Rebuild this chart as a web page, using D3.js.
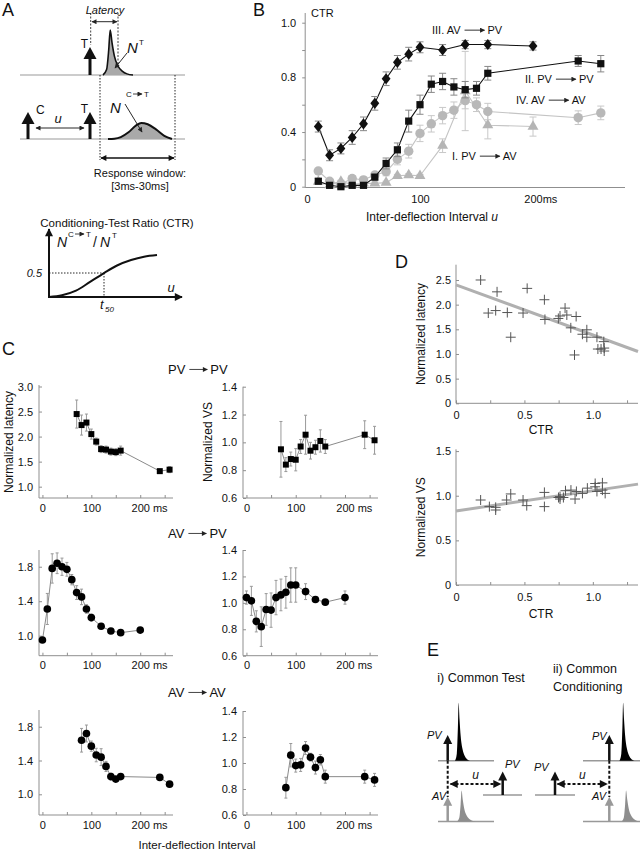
<!DOCTYPE html>
<html><head><meta charset="utf-8">
<script src="https://cdn.jsdelivr.net/npm/d3@7"></script>
<style>
body{margin:0;background:#fff;}
svg{font-family:"Liberation Sans",Arial,Helvetica,sans-serif;}
</style></head><body>
<svg id="c" width="640" height="853"></svg>
<script>
// ================= DATA =================
// Panel B: CTR vs inter-deflection interval (ms)
const bTicksX = [0, 100, 200];
const bTickLabelsX = ["0", "100", "200ms"];
const bTicksY = [0, 0.4, 0.8, 1.2];
const bTickLabelsY = ["0", "0.4", "0.8", "1.0"];
const bMinorY = [0.2, 0.6, 1.0];
const bIntervalsIII = [10,20,30,40,50,60,70,80,90,100,120,140,160,200];
const bCtrIII = [0.44,0.23,0.28,0.36,0.46,0.61,0.79,0.91,0.97,1.02,1.0,1.04,1.04,1.03];
const bErrIII = [0.04,0.04,0.04,0.05,0.05,0.05,0.05,0.05,0.05,0.04,0.04,0.03,0.03,0.03];
const bIntervalsII = [10,20,30,40,50,60,70,80,90,100,110,120,130,140,150,160,240,260];
const bCtrII = [0.04,0.01,0.0,0.01,0.01,0.07,0.17,0.27,0.48,0.60,0.75,0.77,0.73,0.71,0.72,0.83,0.92,0.90];
const bErrII = [0.02,0.01,0.01,0.01,0.01,0.02,0.04,0.05,0.08,0.07,0.06,0.06,0.06,0.06,0.05,0.05,0.04,0.06];
const bIntervalsIV = [10,20,30,40,50,60,70,80,90,100,110,120,130,140,150,160,240,260];
const bCtrIV = [0.115,0.04,0.02,0.06,0.05,0.085,0.11,0.20,0.26,0.39,0.46,0.52,0.56,0.63,0.60,0.55,0.505,0.54];
const bErrIV = [0.02,0.02,0.02,0.02,0.02,0.02,0.03,0.04,0.05,0.06,0.06,0.06,0.06,0.06,0.05,0.06,0.05,0.05];
const bIntervalsI = [10,20,30,40,50,60,70,80,90,100,120,140,160,200];
const bCtrI = [0.037,0.012,0.037,0.017,0.024,0.024,0.03,0.08,0.085,0.08,0.30,0.70,0.45,0.44];
const bErrI = [0.01,0.01,0.01,0.01,0.01,0.01,0.01,0.01,0.01,0.01,0.05,0.29,0.10,0.07];
const bSeriesLabels = [["III. AV","PV"],["II. PV","PV"],["IV. AV","AV"],["I. PV","AV"]];

// Panel C
const cTicksX = [0, 100, 200];
const cMinorX = [50, 150, 250];
const cRowTitles = [["PV","PV"],["AV","PV"],["AV","AV"]];
const cIntervalsPP = [70,80,90,100,110,120,130,140,150,160,240,260];
const cLatPP = [2.45,2.23,2.28,2.05,1.9,1.75,1.74,1.7,1.69,1.72,1.31,1.34];
const cLatErrPP = [0.28,0.2,0.17,0.1,0.07,0.07,0.07,0.07,0.07,0.09,0.04,0.06];
const cVsPP = [0.95,0.84,0.88,0.875,0.97,1.055,0.94,0.965,1.01,0.97,1.055,1.015];
const cVsErrPP = [0.2,0.05,0.05,0.08,0.05,0.14,0.06,0.05,0.08,0.05,0.1,0.1];
const cIntervalsAP = [0,10,20,30,40,50,60,70,80,90,100,120,140,160,200];
const cLatAP = [0.95,1.31,1.78,1.84,1.8,1.77,1.65,1.5,1.45,1.31,1.21,1.11,1.055,1.035,1.065];
const cLatErrAP = [0.02,0.18,0.17,0.12,0.1,0.08,0.06,0.08,0.09,0.05,0.04,0.03,0.02,0.02,0.03];
const cVsAP = [1.04,1.015,0.86,0.82,0.95,0.945,1.04,1.06,1.08,1.135,1.135,1.085,1.025,1.005,1.04];
const cVsErrAP = [0.05,0.11,0.08,0.15,0.12,0.13,0.13,0.12,0.12,0.13,0.13,0.06,0.02,0.02,0.05];
const cIntervalsAA = [80,90,100,110,120,130,140,150,160,240,260];
const cLatAA = [1.64,1.72,1.57,1.465,1.44,1.33,1.21,1.18,1.21,1.2,1.12];
const cLatErrAA = [0.14,0.1,0.06,0.08,0.1,0.06,0.04,0.03,0.03,0.03,0.03];
const cVsAA = [0.81,1.06,0.98,0.985,1.115,1.045,0.965,1.025,0.895,0.895,0.87];
const cVsErrAA = [0.08,0.09,0.05,0.05,0.05,0.03,0.05,0.04,0.05,0.05,0.05];
const cLatTicks1 = [1.0,1.5,2.0,2.5,3.0];
const cLatTicks23 = [1.0,1.4,1.8];
const cVsTicks = [0.6,0.8,1.0,1.2,1.4];

// Panel D
const dTicksX = [0, 0.5, 1.0];
const dMinorX = [0.25, 0.75, 1.25];
const dLatTicks = [0, 0.5, 1.0, 1.5, 2.0, 2.5];
const dVsTicks = [0, 0.5, 1.0, 1.5];
const dCtrLat = [0.18,0.30,0.236,0.29,0.375,0.40,0.49,0.52,0.646,0.65,0.748,0.76,0.797,0.81,0.878,0.839,0.866,0.924,0.956,0.956,1.03,1.037,1.08,1.083,1.083,1.06];
const dLat = [2.50,2.26,1.83,1.88,1.84,1.34,1.83,2.33,2.10,1.70,1.72,1.77,1.93,1.79,1.76,1.53,0.98,1.40,1.49,1.34,1.34,1.10,1.25,1.12,1.06,1.10];
const dCtrVs = [0.18,0.244,0.29,0.29,0.37,0.40,0.49,0.517,0.646,0.646,0.749,0.76,0.785,0.80,0.84,0.87,0.88,0.924,0.96,1.017,1.03,1.017,1.07,1.07,1.09,0.76];
const dVs = [0.952,0.878,0.84,0.87,0.952,1.02,0.952,0.889,1.037,0.878,0.98,0.963,0.98,1.056,1.063,0.963,1.048,1.026,1.085,1.1,1.048,1.137,1.144,1.063,1.026,0.99];
const dLatFit = [[0,2.4],[1.33,1.05]];
const dVsFit = [[0,0.83],[1.33,1.13]];

// Schematic profiles (normalized shape, 0..1)
const spikeShape = [[0,0],[0.12,0.12],[0.19,0.55],[0.24,1],[0.3,0.72],[0.38,0.42],[0.5,0.2],[0.65,0.08],[0.8,0.025],[1,0]];
const bumpShape = [[0,0],[0.1,0.02],[0.2,0.12],[0.32,0.42],[0.44,0.85],[0.52,1],[0.62,0.92],[0.75,0.6],[0.88,0.2],[1,0]];
const sigmoidShape = [[0,0],[0.12,0.04],[0.25,0.15],[0.38,0.36],[0.51,0.57],[0.63,0.75],[0.76,0.88],[0.88,0.96],[1,1]];

// ================= HELPERS =================
const svg = d3.select('#c');
const AX = '#8f8f8f';
const INK = '#111';
const defs = svg.append('defs');
function marker(id, color, w, h) {
  defs.append('marker').attr('id', id).attr('viewBox','0 0 10 10')
    .attr('refX', 9).attr('refY', 5).attr('markerUnits','userSpaceOnUse')
    .attr('markerWidth', w).attr('markerHeight', h).attr('orient','auto-start-reverse')
    .append('path').attr('d','M0,0 L10,5 L0,10 z').attr('fill', color);
}
marker('ahS', '#222', 6, 5);
marker('ahM', '#111', 7, 6);
marker('ahL', '#111', 9, 8);

function txt(g, x, y, s, o = {}) {
  return g.append('text').attr('x', x).attr('y', y).text(s)
    .attr('font-size', o.size || 11).attr('fill', o.fill || INK)
    .attr('text-anchor', o.anchor || 'start')
    .attr('font-style', o.italic ? 'italic' : null);
}
function line(g, x1, y1, x2, y2, o = {}) {
  const l = g.append('line').attr('x1', x1).attr('y1', y1).attr('x2', x2).attr('y2', y2)
    .attr('stroke', o.color || INK).attr('stroke-width', o.w || 1);
  if (o.dash) l.attr('stroke-dasharray', o.dash);
  if (o.m1) l.attr('marker-start', `url(#${o.m1})`);
  if (o.m2) l.attr('marker-end', `url(#${o.m2})`);
  return l;
}
function upArrow(g, x, yBase, yTip, color, shaftW, headW, headH) {
  line(g, x, yBase, x, yTip + headH - 1, { color, w: shaftW });
  g.append('path').attr('d', `M${x - headW / 2},${yTip + headH} L${x},${yTip} L${x + headW / 2},${yTip + headH} Z`).attr('fill', color);
}
function shape(g, prof, x0, x1, yBase, height, o = {}) {
  const sx = d3.scaleLinear().domain([0, 1]).range([x0, x1]);
  const sy = d3.scaleLinear().domain([0, 1]).range([yBase, yBase - height]);
  const gen = d3.line().x(d => sx(d[0])).y(d => sy(d[1])).curve(d3.curveMonotoneX);
  return g.append('path').attr('d', gen(prof) + (o.close ? 'Z' : ''))
    .attr('fill', o.fill || 'none').attr('stroke', o.stroke || 'none').attr('stroke-width', o.sw || 1)
    .attr('stroke-linejoin', 'round');
}
function arrowLabel(g, x, y, a, b, size, arrowLen, color) {
  const t1 = txt(g, x, y, a, { size });
  const w = t1.node().getComputedTextLength();
  const x1 = x + w + 4, x2 = x1 + arrowLen;
  line(g, x1, y - size * 0.35, x2, y - size * 0.35, { color: color || '#333', w: 1, m2: 'ahS' });
  txt(g, x2 + 3, y, b, { size });
}
function panelLetter(x, y, s) { txt(svg, x, y, s, { size: 18 }); }
function styleAxis(sel) {
  sel.select('.domain').remove();
  sel.selectAll('.tick line').attr('stroke', AX);
  sel.selectAll('.tick text').attr('fill', INK).attr('font-family', '"Liberation Sans",Arial,sans-serif');
}

// ================= PANEL A =================
const gA = svg.append('g');
panelLetter(2, 16, 'A');
line(gA, 20, 75, 185, 75, { color: '#999', w: 1 });
shape(gA, spikeShape, 103, 133, 75, 45, { fill: '#a9a9a9', stroke: '#111', sw: 1.6 });
upArrow(gA, 90, 75, 47, '#111', 3, 13, 12);
txt(gA, 88, 48, 'T', { size: 12, anchor: 'end' });
line(gA, 90.7, 13, 90.7, 45, { dash: '2,1.5', w: 0.8 });
line(gA, 118, 13, 118, 68, { dash: '2,1.5', w: 0.8 });
line(gA, 92, 21.7, 117, 21.7, { w: 0.9, m1: 'ahS', m2: 'ahS' });
txt(gA, 105, 14, 'Latency', { size: 11, anchor: 'middle', italic: true });
txt(gA, 127, 53, 'N', { size: 15, italic: true });
txt(gA, 139, 45, 'T', { size: 8 });
line(gA, 127, 53, 115, 68, { w: 0.9, m2: 'ahS' });
line(gA, 100, 75, 100, 160, { dash: '1.5,1.5', w: 0.9 });
line(gA, 175, 75, 175, 160, { dash: '1.5,1.5', w: 0.9 });
line(gA, 101, 158, 174, 158, { w: 1.6, m1: 'ahM', m2: 'ahM' });
txt(gA, 140, 177, 'Response window:', { size: 11, anchor: 'middle' });
txt(gA, 140, 190, '[3ms-30ms]', { size: 11, anchor: 'middle' });
line(gA, 20, 139, 185, 139, { color: '#999', w: 1 });
shape(gA, bumpShape, 108, 172, 139, 16, { fill: '#a9a9a9', stroke: '#111', sw: 2 });
upArrow(gA, 28, 139, 112, '#111', 3, 13, 12);
upArrow(gA, 90, 139, 112, '#111', 3, 13, 12);
txt(gA, 36, 114, 'C', { size: 12 });
txt(gA, 88, 113, 'T', { size: 12, anchor: 'end' });
line(gA, 36, 128, 84, 128, { w: 0.9, m1: 'ahS', m2: 'ahS' });
txt(gA, 58, 123, 'u', { size: 13, italic: true, anchor: 'middle' });
txt(gA, 110, 113, 'N', { size: 15, italic: true });
txt(gA, 126, 97, 'C', { size: 8 });
line(gA, 133, 94, 142, 94, { w: 0.8, m2: 'ahS' });
txt(gA, 144, 97, 'T', { size: 8 });
line(gA, 125, 104, 142, 132, { w: 0.9, m2: 'ahS' });
txt(gA, 117, 227, 'Conditioning-Test Ratio (CTR)', { size: 11.5, anchor: 'middle' });
line(gA, 49, 298, 49, 229, { w: 2, m2: 'ahL' });
line(gA, 48, 297, 182, 297, { w: 2, m2: 'ahL' });
shape(gA, sigmoidShape, 49, 157, 297, 42, { stroke: '#111', sw: 2 });
line(gA, 49, 273, 104, 273, { dash: '1.5,1.5', w: 0.9 });
line(gA, 104, 273, 104, 297, { dash: '1.5,1.5', w: 0.9 });
txt(gA, 42, 277, '0.5', { size: 11, italic: true, anchor: 'end' });
txt(gA, 171, 292, 'u', { size: 13, italic: true, anchor: 'middle' });
txt(gA, 100, 309, 't', { size: 13, italic: true });
txt(gA, 105, 312, '50', { size: 8, italic: true });
txt(gA, 57, 247, 'N', { size: 14, italic: true });
txt(gA, 68, 237, 'C', { size: 8 });
line(gA, 75, 234, 84, 234, { w: 0.8, m2: 'ahS' });
txt(gA, 86, 237, 'T', { size: 8 });
txt(gA, 93, 247, '/', { size: 14 });
txt(gA, 100, 247, 'N', { size: 14, italic: true });
txt(gA, 112, 238, 'T', { size: 8 });

// ================= PANEL B =================
const gB = svg.append('g');
panelLetter(253, 16, 'B');
const xB = d3.scaleLinear().domain([0, 100]).range([307, 420]);
const yB = d3.scaleLinear().domain([0, 1.2]).range([186.7, 22.7]);
line(gB, xB(-1.6), yB(0) + 0.8, xB(-1.6), 13, { color: AX });
line(gB, xB(-1.6), yB(0) + 0.8, 625, yB(0) + 0.8, { color: AX });
gB.append('g').attr('transform', `translate(${xB(-1.6)},0)`)
  .call(d3.axisLeft(yB).tickValues(bTicksY).tickSize(3).tickPadding(6).tickFormat((d, i) => bTickLabelsY[i]))
  .call(styleAxis).selectAll('text').attr('font-size', 11);
gB.append('g').attr('transform', `translate(${xB(-1.6)},0)`)
  .call(d3.axisLeft(yB).tickValues(bMinorY).tickSize(3).tickFormat(''))
  .call(styleAxis);
const bxa = gB.append('g').attr('transform', `translate(0,${yB(0) + 0.8})`)
  .call(d3.axisBottom(xB).tickValues(bTicksX).tickSize(0).tickPadding(8).tickFormat((d, i) => bTickLabelsX[i]))
  .call(styleAxis);
bxa.selectAll('text').attr('font-size', 11).filter(d => d === 200).attr('text-anchor', 'start').attr('x', -9.2);
txt(gB, 311, 17, 'CTR', { size: 11 });
const tx = txt(gB, 432, 221, 'Inter-deflection Interval ', { size: 12, anchor: 'middle' });
tx.append('tspan').attr('font-style', 'italic').text('u');

function bSeries(xs, ys, es, sym, color, lineColor, errColor, size) {
  const g = gB.append('g');
  const gen = d3.line().x((d, i) => xB(xs[i])).y(d => yB(d));
  g.append('path').attr('d', gen(ys)).attr('fill', 'none').attr('stroke', lineColor).attr('stroke-width', 1.1);
  ys.forEach((v, i) => {
    const x = xB(xs[i]);
    line(g, x, yB(v - es[i]), x, yB(v + es[i]), { color: errColor, w: 1 });
    line(g, x - 3.5, yB(v - es[i]), x + 3.5, yB(v - es[i]), { color: errColor, w: 1 });
    line(g, x - 3.5, yB(v + es[i]), x + 3.5, yB(v + es[i]), { color: errColor, w: 1 });
  });
  g.selectAll('path.m').data(ys).join('path').attr('class', 'm')
    .attr('transform', (d, i) => `translate(${xB(xs[i])},${yB(d)})`)
    .attr('d', d3.symbol().type(sym).size(size)).attr('fill', color);
}
const diamond = { draw(ctx, size) { const h = Math.sqrt(size) * 0.62, w = h * 0.8; ctx.moveTo(0, -h); ctx.lineTo(w, 0); ctx.lineTo(0, h); ctx.lineTo(-w, 0); ctx.closePath(); } };
bSeries(bIntervalsI, bCtrI, bErrI, d3.symbolTriangle, '#b5b5b5', '#c4c4c4', '#c8c8c8', 52);
bSeries(bIntervalsIV, bCtrIV, bErrIV, d3.symbolCircle, '#b8b8b8', '#c4c4c4', '#c8c8c8', 70);
bSeries(bIntervalsII, bCtrII, bErrII, d3.symbolSquare, '#111', '#111', '#888', 52);
bSeries(bIntervalsIII, bCtrIII, bErrIII, diamond, '#111', '#111', '#888', 80);
arrowLabel(gB, 432, 34, bSeriesLabels[0][0], bSeriesLabels[0][1], 11, 20);
arrowLabel(gB, 525, 83, bSeriesLabels[1][0], bSeriesLabels[1][1], 11, 20);
arrowLabel(gB, 516, 104, bSeriesLabels[2][0], bSeriesLabels[2][1], 11, 20);
arrowLabel(gB, 452, 160, bSeriesLabels[3][0], bSeriesLabels[3][1], 11, 20);

// ================= PANEL C =================
const gC = svg.append('g');
panelLetter(2, 355, 'C');
function cPanel(xLeft, xRight, yRange, yDomain, yTicks, xs, ys, es, sym, msize, fmt) {
  const g = gC.append('g');
  const x = d3.scaleLinear().domain([-7, 267]).range([xLeft, xRight]);
  const y = d3.scaleLinear().domain(yDomain).range(yRange);
  line(g, xLeft, yRange[0], xLeft, yRange[1], { color: AX });
  line(g, xLeft, yRange[0], xRight, yRange[0], { color: AX });
  g.append('g').attr('transform', `translate(${xLeft},0)`)
    .call(d3.axisLeft(y).tickValues(yTicks).tickSize(-3).tickPadding(6).tickFormat(d3.format(fmt)))
    .call(styleAxis).selectAll('text').attr('font-size', 11);
  const xa = g.append('g').attr('transform', `translate(0,${yRange[0]})`)
    .call(d3.axisBottom(x).tickValues(cTicksX).tickSize(-3).tickPadding(6).tickFormat(d3.format('d')))
    .call(styleAxis);
  xa.selectAll('text').attr('font-size', 11).filter(d => d === 200).attr('text-anchor', 'start').attr('x', -9.2).text('200 ms');
  g.append('g').attr('transform', `translate(0,${yRange[0]})`)
    .call(d3.axisBottom(x).tickValues(cMinorX).tickSize(-3).tickFormat('')).call(styleAxis);
  const gen = d3.line().x((d, i) => x(xs[i])).y(d => y(d));
  g.append('path').attr('d', gen(ys)).attr('fill', 'none').attr('stroke', '#8a8a8a').attr('stroke-width', 1);
  ys.forEach((v, i) => {
    const px = x(xs[i]);
    line(g, px, y(v - es[i]), px, y(v + es[i]), { color: '#999', w: 1 });
    line(g, px - 1.5, y(v - es[i]), px + 1.5, y(v - es[i]), { color: '#999', w: 1 });
    line(g, px - 1.5, y(v + es[i]), px + 1.5, y(v + es[i]), { color: '#999', w: 1 });
  });
  g.selectAll('path.m').data(ys).join('path').attr('class', 'm')
    .attr('transform', (d, i) => `translate(${x(xs[i])},${y(d)})`)
    .attr('d', d3.symbol().type(sym).size(msize)).attr('fill', '#000');
}
function cTitle(yb, pair) { arrowLabel(gC, 168, yb, pair[0], pair[1], 13, 18, '#444'); }
cTitle(374, cRowTitles[0]);
cTitle(538, cRowTitles[1]);
cTitle(697, cRowTitles[2]);
cPanel(39, 173, [498, 385], [0.774, 3.03], cLatTicks1, cIntervalsPP, cLatPP, cLatErrPP, d3.symbolSquare, 36, '.1f');
cPanel(243, 378, [498, 386.7], [0.6, 1.4], cVsTicks, cIntervalsPP, cVsPP, cVsErrPP, d3.symbolSquare, 36, '.1f');
cPanel(39, 173, [655.7, 550], [0.768, 1.994], cLatTicks23, cIntervalsAP, cLatAP, cLatErrAP, d3.symbolCircle, 46, '.1f');
cPanel(243, 378, [655.7, 550], [0.6, 1.4], cVsTicks, cIntervalsAP, cVsAP, cVsErrAP, d3.symbolCircle, 46, '.1f');
cPanel(39, 173, [815, 710], [0.755, 1.998], cLatTicks23, cIntervalsAA, cLatAA, cLatErrAA, d3.symbolCircle, 46, '.1f');
cPanel(243, 378, [815, 711], [0.6, 1.4], cVsTicks, cIntervalsAA, cVsAA, cVsErrAA, d3.symbolCircle, 46, '.1f');
txt(gC, 0, 0, 'Normalized latency', { size: 12, anchor: 'middle' }).attr('transform', 'translate(13,442) rotate(-90)');
txt(gC, 0, 0, 'Normalized VS', { size: 12, anchor: 'middle' }).attr('transform', 'translate(212,442) rotate(-90)');
txt(gC, 197, 849, 'Inter-deflection Interval', { size: 11.5, anchor: 'middle' });

// ================= PANEL D =================
const gD = svg.append('g');
panelLetter(395, 268, 'D');
function dPanel(yRange, yMax, yTicks, xs, ys, fit, ylab, xlabY) {
  const g = gD.append('g');
  const x = d3.scaleLinear().domain([0, 1.33]).range([456, 638]);
  const y = d3.scaleLinear().domain([0, yMax]).range(yRange);
  line(g, 456, yRange[0], 456, yRange[1], { color: AX });
  line(g, 456, yRange[0], 638, yRange[0], { color: AX });
  g.append('g').attr('transform', 'translate(456,0)')
    .call(d3.axisLeft(y).tickValues(yTicks).tickSize(-3).tickPadding(5).tickFormat(d => d === 0 ? '0' : d3.format('.1f')(d)))
    .call(styleAxis).selectAll('text').attr('font-size', 11);
  g.append('g').attr('transform', `translate(0,${yRange[0]})`)
    .call(d3.axisBottom(x).tickValues(dTicksX).tickSize(-3).tickPadding(8).tickFormat(d => d === 0 ? '0' : d3.format('.1f')(d)))
    .call(styleAxis).selectAll('text').attr('font-size', 11);
  g.append('g').attr('transform', `translate(0,${yRange[0]})`)
    .call(d3.axisBottom(x).tickValues(dMinorX).tickSize(-3).tickFormat('')).call(styleAxis);
  g.append('path').attr('d', d3.line().x(d => x(d[0])).y(d => y(d[1]))(fit))
    .attr('stroke', '#b0b0b0').attr('stroke-width', 3).attr('fill', 'none');
  ys.forEach((v, i) => {
    const px = x(xs[i]), py = y(v);
    line(g, px - 5, py, px + 5, py, { color: '#555', w: 1 });
    line(g, px, py - 5, px, py + 5, { color: '#555', w: 1 });
  });
  txt(g, 0, 0, ylab, { size: 12, anchor: 'middle' })
    .attr('transform', `translate(425,${(yRange[0] + yRange[1]) / 2}) rotate(-90)`);
  txt(g, 541, xlabY, 'CTR', { size: 12, anchor: 'middle' });
}
dPanel([403.3, 264.7], 2.81, dLatTicks, dCtrLat, dLat, dLatFit, 'Normalized latency', 434);
dPanel([585, 449.3], 1.52, dVsTicks, dCtrVs, dVs, dVsFit, 'Normalized VS', 618);

// ================= PANEL E =================
const gE = svg.append('g');
panelLetter(427, 656, 'E');
txt(gE, 481, 682, 'i) Common Test', { size: 12.5, anchor: 'middle' });
txt(gE, 553, 673, 'ii) Common', { size: 12.5 });
txt(gE, 553, 691, 'Conditioning', { size: 12.5 });
function eDiagram(o) {
  const g = gE.append('g');
  line(g, o.topL, 760.7, o.topR, 760.7, { color: '#999', w: 1.5 });
  line(g, o.topL, 821.5, o.topR, 821.5, { color: '#999', w: 1.5 });
  line(g, o.smallL, 795, o.smallR, 795, { color: '#999', w: 1.5 });
  shape(g, spikeShape, o.spikeX, o.spikeX + 15, 760.7, 58, { fill: '#000', close: true });
  shape(g, spikeShape, o.spikeX + 2, o.spikeX + 21, 821.5, 31, { fill: '#8e8e8e', close: true });
  line(g, o.mainX, 760.7, o.mainX, 797, { dash: '3,2', w: 2 });
  upArrow(g, o.mainX, 760.7, 735, '#111', 2.5, 9, 9);
  upArrow(g, o.mainX, 821.5, 796.7, '#999', 2.5, 9, 9);
  upArrow(g, o.smallX, 795, 771.5, '#111', 2.5, 9, 9);
  line(g, o.uL, 784, o.uR, 784, { dash: '3,2', w: 2, m1: 'ahL', m2: 'ahL' });
  txt(g, (o.uL + o.uR) / 2, 779, 'u', { size: 12, italic: true, anchor: 'middle' });
  txt(g, o.pvTopX, o.pvTopY, 'PV', { size: 11, italic: true });
  txt(g, o.avX, 800, 'AV', { size: 11, italic: true });
  txt(g, o.pvSmallX, o.pvSmallY, 'PV', { size: 11, italic: true });
}
eDiagram({ topL: 438, topR: 494, smallL: 483, smallR: 522, spikeX: 455, mainX: 447.7, smallX: 502.7,
  uL: 450.5, uR: 500.5, pvTopX: 427, pvTopY: 739, avX: 432, pvSmallX: 505, pvSmallY: 768 });
eDiagram({ topL: 583, topR: 640, smallL: 535, smallR: 575, spikeX: 619.5, mainX: 609.3, smallX: 555,
  uL: 557.5, uR: 607, pvTopX: 592, pvTopY: 740, avX: 592, pvSmallX: 534, pvSmallY: 771 });
</script>
</body></html>
